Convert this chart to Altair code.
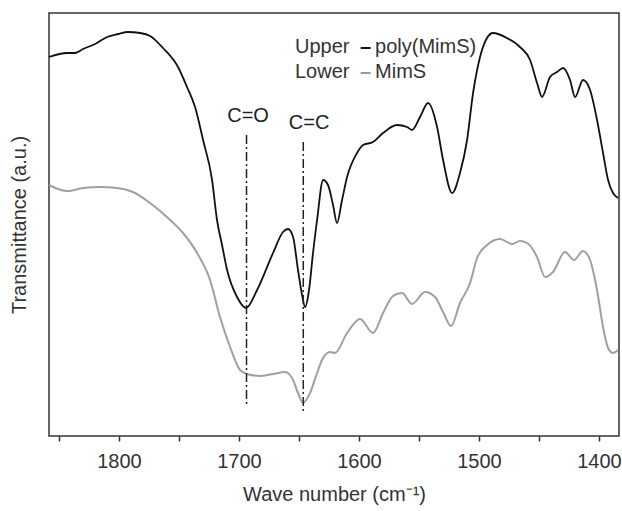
import altair as alt
import pandas as pd

# Upper curve: poly(MimS)
upper_wn = [1858.3, 1843.3, 1836.6, 1829.9, 1819.9, 1809.9, 1800.8, 1792.4, 1782.4, 1774.1,
            1763.3, 1750.8, 1743.3, 1736.6, 1729.9, 1722.4, 1718.3, 1714.1, 1709.9, 1701.6,
            1694.1, 1684.9, 1671.6, 1663.3, 1659.1, 1654.9, 1650.8, 1647.4, 1644.9, 1641.6,
            1638.3, 1634.9, 1629.9, 1625.8, 1621.6, 1618.3, 1614.1, 1609.9, 1601.6, 1596.6,
            1588.3, 1579.9, 1568.3, 1559.9, 1555.8, 1549.1, 1542.4, 1534.9, 1529.9, 1522.4,
            1515.8, 1509.9, 1504.9, 1499.1, 1493.3, 1488.3, 1476.6, 1465.8, 1457.4, 1451.6,
            1447.4, 1440.8, 1434.9, 1429.9, 1424.1, 1419.9, 1413.3, 1407.4, 1401.6, 1396.6,
            1392.4, 1388.3, 1384.1]
upper_t = [379, 383, 383, 387, 392, 399, 402, 404, 403, 400,
           388, 369, 349, 329, 296, 256, 216, 191, 166, 139,
           128, 146, 183, 204, 207, 199, 166, 141, 129, 146,
           183, 216, 256, 251, 231, 213, 236, 259, 283, 291,
           294, 303, 311, 309, 306, 319, 333, 309, 276, 243,
           263, 296, 343, 379, 398, 403, 398, 389, 376, 353,
           339, 359, 364, 368, 356, 339, 356, 346, 316, 283,
           256, 243, 238]

# Lower curve: MimS
lower_wn = [1858.3, 1843.3, 1829.9, 1815.8, 1801.6, 1788.3, 1774.1, 1760.0, 1746.6, 1734.9,
            1724.1, 1715.8, 1707.4, 1699.1, 1693.3, 1682.4, 1671.6, 1661.6, 1654.9, 1650.8,
            1646.6, 1640.8, 1634.9, 1630.8, 1624.1, 1619.9, 1609.9, 1599.1, 1588.3, 1579.9,
            1571.6, 1564.1, 1555.8, 1544.9, 1536.6, 1529.9, 1523.3, 1515.8, 1507.4, 1501.6,
            1493.3, 1482.4, 1472.4, 1465.8, 1459.9, 1451.6, 1444.9, 1438.3, 1428.3, 1420.8,
            1413.3, 1407.4, 1401.6, 1396.6, 1392.4, 1388.3, 1384.1]
lower_t = [251, 245, 248, 249, 248, 244, 233, 219, 203, 183,
           156, 119, 89, 66, 62, 60, 62, 64, 56, 43,
           33, 43, 63, 76, 84, 83, 103, 117, 103, 123,
           140, 143, 132, 144, 139, 124, 110, 133, 153, 178,
           191, 197, 192, 195, 193, 179, 159, 164, 184, 176,
           185, 176, 146, 109, 88, 83, 86]

# Marker lines (C=O, C=C)
mark_labels = ["C=O", "C=C"]
mark_wn = [1693.7, 1646.4]
mark_top = [301, 294]
mark_bottom = [31, 24]
mark_label_wn = [1692.4, 1641.6]
mark_label_t = [320, 313]

# Legend texts
legend_text = ["Upper", "–", "poly(MimS)", "Lower", "–", "MimS"]
legend_wn = [1653.3, 1594.5, 1586.6, 1653.3, 1594.5, 1586.6]
legend_t = [389, 389, 389, 364, 364, 364]
legend_color = ["#333333", "#111111", "#333333", "#333333", "#9a9a9a", "#333333"]
legend_align = ["left", "center", "left", "left", "center", "left"]

X_DOMAIN = [1858.3, 1383.3]
Y_DOMAIN = [0, 423]
FONT = "Liberation Sans"
FS = 20

df_u = pd.DataFrame({"wn": upper_wn, "t": upper_t})
df_l = pd.DataFrame({"wn": lower_wn, "t": lower_t})
df_m = pd.DataFrame({"label": mark_labels, "wn": mark_wn, "top": mark_top, "bottom": mark_bottom,
                     "lwn": mark_label_wn, "lt": mark_label_t})
df_leg = pd.DataFrame({"text": legend_text, "wn": legend_wn, "t": legend_t,
                       "color": legend_color, "align": legend_align})

xs = alt.Scale(domain=X_DOMAIN, nice=False, zero=False)
ys = alt.Scale(domain=Y_DOMAIN, nice=False, zero=False)

x_axis = alt.Axis(
    title="Wave number (cm⁻¹)",
    values=[1850, 1800, 1750, 1700, 1650, 1600, 1550, 1500, 1450, 1400],
    labelExpr="datum.value % 100 == 0 ? datum.label : ''",
    format="d",
    grid=False, domain=False,
    tickSize=5, tickWidth=1.5, tickColor="#333333",
    labelFontSize=FS, labelColor="#333333", labelFont=FONT, labelPadding=10,
    titleFontSize=FS, titleColor="#333333", titleFont=FONT, titleFontWeight="normal",
    titlePadding=13,
)
y_axis = alt.Axis(
    title="Transmittance (a.u.)", labels=False, ticks=False, domain=False, grid=False,
    titleFontSize=FS, titleColor="#333333", titleFont=FONT, titleFontWeight="normal",
    titlePadding=20,
)

upper = alt.Chart(df_u).mark_line(color="#111111", strokeWidth=1.8, interpolate="monotone").encode(
    x=alt.X("wn:Q", scale=xs, axis=x_axis, sort=None),
    y=alt.Y("t:Q", scale=ys, axis=y_axis),
    order=alt.Order("wn:Q", sort="descending"),
)
lower = alt.Chart(df_l).mark_line(color="#a0a0a0", strokeWidth=2, interpolate="monotone").encode(
    x=alt.X("wn:Q", scale=xs),
    y=alt.Y("t:Q", scale=ys),
    order=alt.Order("wn:Q", sort="descending"),
)
rules = alt.Chart(df_m).mark_rule(color="#222222", strokeWidth=1.5, strokeDash=[9, 3, 2, 3]).encode(
    x=alt.X("wn:Q", scale=xs),
    y=alt.Y("top:Q", scale=ys),
    y2="bottom:Q",
)
mlabels = alt.Chart(df_m).mark_text(fontSize=FS, font=FONT, color="#222222").encode(
    x=alt.X("lwn:Q", scale=xs),
    y=alt.Y("lt:Q", scale=ys),
    text="label:N",
)

leg_layers = []
for al in ["left", "center"]:
    sub = df_leg[df_leg["align"] == al]
    leg_layers.append(
        alt.Chart(sub).mark_text(fontSize=FS, font=FONT, align=al, baseline="middle",
                                 fontWeight="bold" if al == "center" else "normal").encode(
            x=alt.X("wn:Q", scale=xs),
            y=alt.Y("t:Q", scale=ys),
            text="text:N",
            color=alt.Color("color:N", scale=None),
        )
    )

chart = alt.layer(lower, upper, rules, mlabels, *leg_layers).properties(
    width=570, height=423,
    background="white",
    autosize=alt.AutoSizeParams(type="none"),
    padding={"left": 49, "top": 13, "right": 3, "bottom": 75},
).configure_view(stroke="#333333", strokeWidth=1.5)

chart.save("out.html", embed_options={"renderer": "svg", "actions": False})
